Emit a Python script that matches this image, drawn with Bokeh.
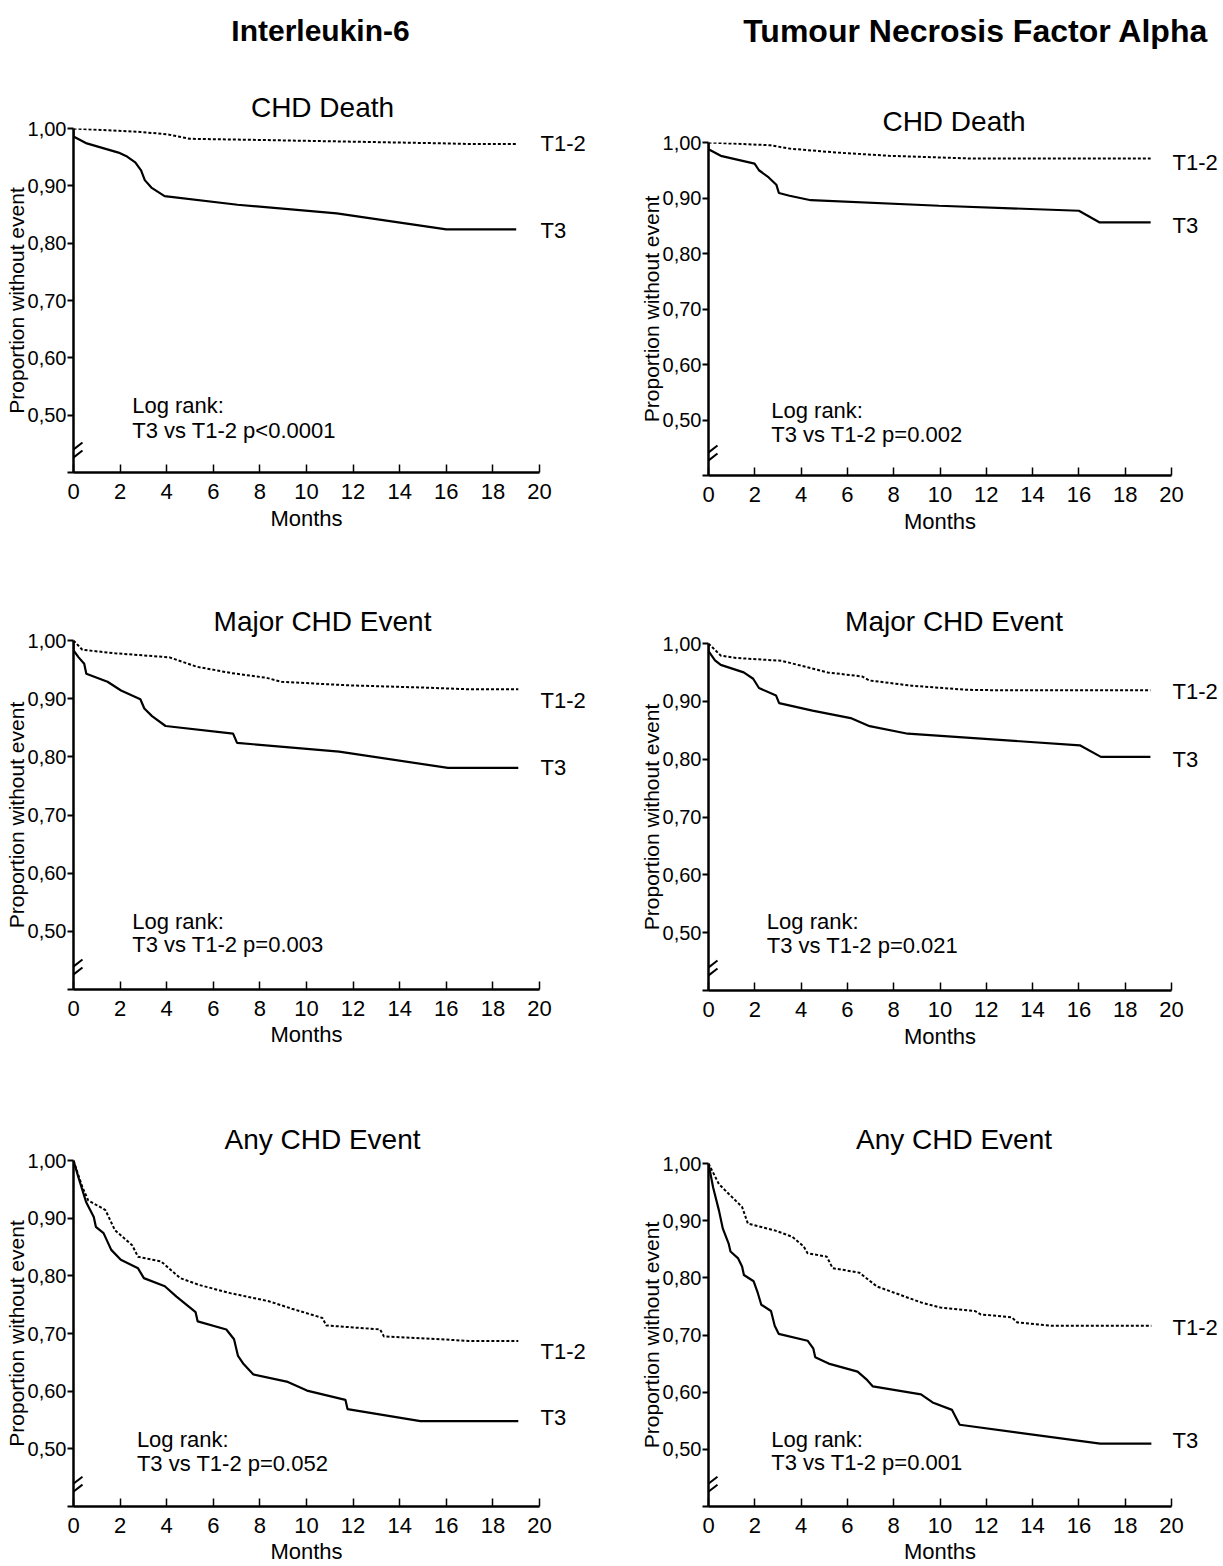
from bokeh.plotting import figure
from bokeh.models import Range1d, FixedTicker, Label, Arrow, Title, LinearAxis
from bokeh.layouts import row, column
from bokeh.embed import file_html
from bokeh.resources import INLINE

FONT = "Liberation Sans"

# ---------------- data ----------------
x_ticks = [0, 2, 4, 6, 8, 10, 12, 14, 16, 18, 20]
y_ticks = [0.40, 0.50, 0.60, 0.70, 0.80, 0.90, 1.00]
y_tick_labels = ["", "0,50", "0,60", "0,70", "0,80", "0,90", "1,00"]

column_titles = ["Interleukin-6", "Tumour Necrosis Factor Alpha"]
row_titles = ["CHD Death", "Major CHD Event", "Any CHD Event"]
group_names = ["T1-2", "T3"]
logrank_heading = "Log rank:"
p_values_il6 = ["p<0.0001", "p=0.003", "p=0.052"]
p_values_tnf = ["p=0.002", "p=0.021", "p=0.001"]

# IL-6, CHD death
il6_death_t3_months = [0, 0, 0.57, 1.93, 2.3, 2.65, 2.9, 3.06, 3.34, 3.91, 7.04, 11.3, 16.0, 19.0]
il6_death_t3_surv = [1.0, 0.986, 0.974, 0.958, 0.951, 0.941, 0.927, 0.910, 0.897, 0.882, 0.867, 0.852, 0.824, 0.824]
il6_death_t12_months = [0, 2.87, 4.0, 5.0, 8.0, 12.0, 16.0, 17.0, 19.0]
il6_death_t12_surv = [1.0, 0.994, 0.990, 0.982, 0.980, 0.977, 0.974, 0.973, 0.973]

# TNF-alpha, CHD death
tnf_death_t3_months = [0, 0, 0.53, 1.99, 2.18, 2.6, 2.93, 3.04, 3.5, 4.42, 9.96, 16.0, 16.9, 19.1]
tnf_death_t3_surv = [1.0, 0.988, 0.976, 0.962, 0.950, 0.937, 0.924, 0.909, 0.904, 0.896, 0.886, 0.877, 0.856, 0.856]
tnf_death_t12_months = [0, 2.68, 3.5, 5.5, 7.8, 11.45, 19.1]
tnf_death_t12_surv = [1.0, 0.995, 0.989, 0.982, 0.976, 0.971, 0.971]

# IL-6, major CHD event
il6_major_t3_months = [0, 0, 0.22, 0.46, 0.55, 1.46, 2.04, 2.87, 3.04, 3.37, 3.95, 6.85, 7.02, 11.4, 16.07, 19.09]
il6_major_t3_surv = [1.0, 0.983, 0.971, 0.960, 0.943, 0.929, 0.914, 0.899, 0.883, 0.870, 0.853, 0.840, 0.824, 0.809, 0.781, 0.781]
il6_major_t12_months = [0, 0.38, 1.79, 4.12, 5.28, 6.77, 8.27, 8.93, 11.75, 15.07, 17.06, 19.09]
il6_major_t12_surv = [1.0, 0.984, 0.978, 0.971, 0.955, 0.944, 0.936, 0.929, 0.923, 0.919, 0.916, 0.916]

# TNF-alpha, major CHD event
tnf_major_t3_months = [0, 0, 0.28, 0.53, 1.52, 1.93, 2.18, 2.92, 3.05, 4.49, 6.14, 6.96, 8.61, 16.04, 16.95, 19.09]
tnf_major_t3_surv = [1.0, 0.987, 0.971, 0.963, 0.950, 0.939, 0.923, 0.910, 0.897, 0.884, 0.871, 0.857, 0.844, 0.824, 0.804, 0.804]
tnf_major_t12_months = [0, 0.53, 1.19, 3.17, 5.15, 6.63, 6.96, 8.78, 11.1, 12.74, 19.09]
tnf_major_t12_surv = [1.0, 0.979, 0.975, 0.970, 0.950, 0.943, 0.936, 0.927, 0.920, 0.919, 0.919]

# IL-6, any CHD event
il6_any_t3_months = [0, 0.21, 0.54, 0.87, 0.96, 1.29, 1.62, 2.03, 2.77, 3.02, 3.92, 4.42, 5.24, 5.33, 6.56,
                     6.89, 7.06, 7.3, 7.72, 9.2, 10.02, 11.67, 11.76, 14.89, 19.09]
il6_any_t3_surv = [1.0, 0.971, 0.928, 0.902, 0.885, 0.874, 0.845, 0.828, 0.813, 0.796, 0.782, 0.764, 0.737, 0.721, 0.707,
                   0.690, 0.661, 0.647, 0.629, 0.616, 0.601, 0.585, 0.569, 0.548, 0.548]
il6_any_t12_months = [0, 0.38, 0.63, 1.37, 1.78, 2.52, 2.77, 3.76, 4.58, 5.41, 6.73, 8.38, 9.37, 10.68, 10.85,
                      13.16, 13.32, 15.8, 16.95, 19.09]
il6_any_t12_surv = [1.0, 0.954, 0.931, 0.914, 0.879, 0.853, 0.833, 0.825, 0.796, 0.784, 0.770, 0.756, 0.743, 0.727, 0.714,
                    0.707, 0.695, 0.690, 0.687, 0.687]

# TNF-alpha, any CHD event
tnf_any_t3_months = [0, 0.2, 0.45, 0.62, 0.87, 0.95, 1.28, 1.45, 1.53, 1.95, 2.11, 2.28, 2.7, 2.86, 3.03, 4.28,
                     4.53, 4.61, 5.19, 6.44, 6.86, 7.1, 9.18, 9.68, 10.52, 10.85, 16.92, 19.13]
tnf_any_t3_surv = [1.0, 0.958, 0.918, 0.886, 0.860, 0.846, 0.834, 0.820, 0.805, 0.794, 0.776, 0.753, 0.742, 0.716, 0.702,
                   0.690, 0.676, 0.661, 0.650, 0.636, 0.621, 0.610, 0.596, 0.582, 0.569, 0.543, 0.510, 0.510]
tnf_any_t12_months = [0, 0.45, 0.87, 1.45, 1.7, 2.86, 3.61, 4.11, 4.28, 5.11, 5.36, 6.52, 7.27, 8.02, 9.18, 10.02,
                      11.51, 11.76, 13.1, 13.34, 14.84, 19.13]
tnf_any_t12_surv = [1.0, 0.964, 0.947, 0.924, 0.895, 0.883, 0.872, 0.855, 0.843, 0.837, 0.817, 0.809, 0.785, 0.774,
                    0.757, 0.748, 0.742, 0.736, 0.731, 0.722, 0.716, 0.716]

# ---------------- layout (pixels / label anchors) ----------------
LEFT_W, RIGHT_W = 620, 603
panels = [
    # column 0 (IL-6)
    dict(col=0, r=0, W=LEFT_W, H=560, L=73, T=128, fw=466, fh=344, t_std=11, gap_std=24, xstd=4,
         t3=(il6_death_t3_months, il6_death_t3_surv), t12=(il6_death_t12_months, il6_death_t12_surv),
         pv=p_values_il6[0], lab12=0.974, lab3=0.822, lrx=2.52, lry=(0.516, 0.4725)),
    dict(col=0, r=1, W=LEFT_W, H=520, L=73, T=80, fw=466, fh=349, t_std=8, xstd=3,
         t3=(il6_major_t3_months, il6_major_t3_surv), t12=(il6_major_t12_months, il6_major_t12_surv),
         pv=p_values_il6[1], lab12=0.897, lab3=0.781, lrx=2.52, lry=(0.517, 0.477)),
    dict(col=0, r=2, W=LEFT_W, H=486, L=73, T=80, fw=466, fh=348, t_std=11, xstd=3,
         t3=(il6_any_t3_months, il6_any_t3_surv), t12=(il6_any_t12_months, il6_any_t12_surv),
         pv=p_values_il6[2], lab12=0.669, lab3=0.555, lrx=2.72, lry=(0.517, 0.474)),
    # column 1 (TNF-alpha)
    dict(col=1, r=0, W=RIGHT_W, H=560, L=88, T=142, fw=463, fh=333, t_std=11, gap_std=36, xstd=4,
         t3=(tnf_death_t3_months, tnf_death_t3_surv), t12=(tnf_death_t12_months, tnf_death_t12_surv),
         pv=p_values_tnf[0], lab12=0.964, lab3=0.850, lrx=2.71, lry=(0.5166, 0.4746)),
    dict(col=1, r=1, W=RIGHT_W, H=520, L=88, T=83, fw=463, fh=347, t_std=13, xstd=4,
         t3=(tnf_major_t3_months, tnf_major_t3_surv), t12=(tnf_major_t12_months, tnf_major_t12_surv),
         pv=p_values_tnf[1], lab12=0.917, lab3=0.799, lrx=2.52, lry=(0.520, 0.477)),
    dict(col=1, r=2, W=RIGHT_W, H=486, L=88, T=83, fw=463, fh=346, t_std=17, xstd=3,
         t3=(tnf_any_t3_months, tnf_any_t3_surv), t12=(tnf_any_t12_months, tnf_any_t12_surv),
         pv=p_values_tnf[2], lab12=0.713, lab3=0.515, lrx=2.71, lry=(0.517, 0.477)),
]
TITLE_DX = [16, 14]      # title centre relative to frame centre (px)
HEADER_DX = [14, 37]
HEADER_SIZE = [30, 32]

# Arial / Liberation Sans advance widths (1/1000 em) used to centre the titles
_W_REG = {" ": 278, "A": 667, "C": 722, "D": 722, "E": 667, "H": 722, "M": 833, "a": 556, "e": 556,
          "h": 556, "j": 222, "n": 556, "o": 556, "r": 333, "t": 278, "v": 500, "y": 500}
_W_BOLD = {" ": 278, "A": 722, "F": 611, "I": 278, "N": 722, "T": 611, "a": 556, "c": 556, "e": 556,
           "h": 611, "i": 278, "k": 556, "l": 278, "m": 889, "n": 611, "o": 611, "p": 611, "r": 389,
           "s": 556, "t": 333, "u": 611, "-": 333, "6": 556}


def text_width(text, size, bold=False):
    table = _W_BOLD if bold else _W_REG
    return sum(table.get(ch, 556) for ch in text) * size / 1000.0


def make_panel(cfg):
    W, H, L, T, fw, fh = cfg["W"], cfg["H"], cfg["L"], cfg["T"], cfg["fw"], cfg["fh"]
    p = figure(width=W, height=H, output_backend="svg", toolbar_location=None,
               x_range=Range1d(0, 20), y_range=Range1d(0.40, 1.00),
               min_border_left=L, min_border_top=T,
               min_border_right=W - L - fw, min_border_bottom=H - T - fh,
               background_fill_color="white", border_fill_color="white")
    p.outline_line_color = None
    p.grid.visible = False

    # x axis
    xa = p.xaxis[0]
    xa.ticker = FixedTicker(ticks=x_ticks)
    xa.axis_label = "Months"
    xa.axis_label_text_font = FONT
    xa.axis_label_text_font_size = "22px"
    xa.axis_label_text_font_style = "normal"
    xa.axis_label_text_color = "black"
    xa.axis_label_standoff = cfg["xstd"]
    xa.major_label_text_font = FONT
    xa.major_label_text_font_size = "22px"
    xa.major_label_text_color = "black"
    xa.major_label_standoff = 11
    xa.major_tick_in = 8
    xa.major_tick_out = 0
    xa.major_tick_line_width = 1.5
    xa.minor_tick_line_color = None
    xa.axis_line_width = 2.5

    # y axis
    ya = p.yaxis[0]
    ya.ticker = FixedTicker(ticks=y_ticks)
    ya.major_label_overrides = {t: s for t, s in zip(y_ticks, y_tick_labels)}
    ya.axis_label = "Proportion without event"
    ya.axis_label_text_font = FONT
    ya.axis_label_text_font_size = "21px"
    ya.axis_label_text_font_style = "normal"
    ya.axis_label_text_color = "black"
    ya.axis_label_standoff = -3
    ya.major_label_text_font = FONT
    ya.major_label_text_font_size = "20px"
    ya.major_label_text_color = "black"
    ya.major_label_standoff = 1
    ya.major_tick_in = 0
    ya.major_tick_out = 6
    ya.major_tick_line_width = 2
    ya.minor_tick_line_color = None
    ya.axis_line_width = 2.5

    # group names at the right end of the curves (label-only axis)
    ga = LinearAxis(ticker=FixedTicker(ticks=[cfg["lab12"], cfg["lab3"]]),
                    major_label_overrides={cfg["lab12"]: group_names[0], cfg["lab3"]: group_names[1]},
                    axis_line_color=None, major_tick_line_color=None, minor_tick_line_color=None,
                    major_tick_in=0, major_tick_out=0, major_label_standoff=1,
                    major_label_text_font=FONT, major_label_text_font_size="22px",
                    major_label_text_color="black")
    p.add_layout(ga, "right")

    # curves
    p.line(cfg["t12"][0], cfg["t12"][1], line_color="black", line_width=2, line_dash="3 2")
    p.line(cfg["t3"][0], cfg["t3"][1], line_color="black", line_width=2.2)

    # axis break marks
    sx = fw / 20.0
    sy = fh / 0.60
    yb = 0.40 + 19.0 / sy
    for dy in (-4.0, 4.0):
        p.add_layout(Arrow(end=None, start=None,
                           x_start=-9.0 / sx, y_start=yb + (dy - 7.0) / sy,
                           x_end=9.0 / sx, y_end=yb + (dy + 7.0) / sy,
                           line_color="black", line_width=2))

    # log-rank annotation
    for yy, txt in zip(cfg["lry"], [logrank_heading, "T3 vs T1-2 " + cfg["pv"]]):
        p.add_layout(Label(x=cfg["lrx"], y=yy, text=txt, text_font=FONT, text_font_size="22px",
                           text_align="left", text_baseline="middle", text_color="black"))

    # panel title (closest to frame), then a spacer, then the column header
    ttl = row_titles[cfg["r"]]
    off = fw / 2.0 + TITLE_DX[cfg["col"]] - text_width(ttl, 28) / 2.0
    p.add_layout(Title(text=ttl, align="left", offset=off, standoff=cfg["t_std"],
                       text_font=FONT, text_font_size="28px", text_font_style="normal",
                       text_color="black"), "above")
    if cfg["r"] == 0:
        p.add_layout(Title(text=" ", standoff=cfg["gap_std"], text_font=FONT,
                           text_font_size="10px", text_font_style="normal"), "above")
        hdr = column_titles[cfg["col"]]
        hs = HEADER_SIZE[cfg["col"]]
        off = fw / 2.0 + HEADER_DX[cfg["col"]] - text_width(hdr, hs, bold=True) / 2.0
        p.add_layout(Title(text=hdr, align="left", offset=off, standoff=2,
                           text_font=FONT, text_font_size=f"{hs}px", text_font_style="bold",
                           text_color="black"), "above")
    return p


figs = [make_panel(c) for c in panels]
left = column(figs[0], figs[1], figs[2], spacing=0)
right = column(figs[3], figs[4], figs[5], spacing=0)
layout = row(left, right, spacing=0)

open("out.html", "w").write(file_html(layout, INLINE, title="Kaplan-Meier curves"))
